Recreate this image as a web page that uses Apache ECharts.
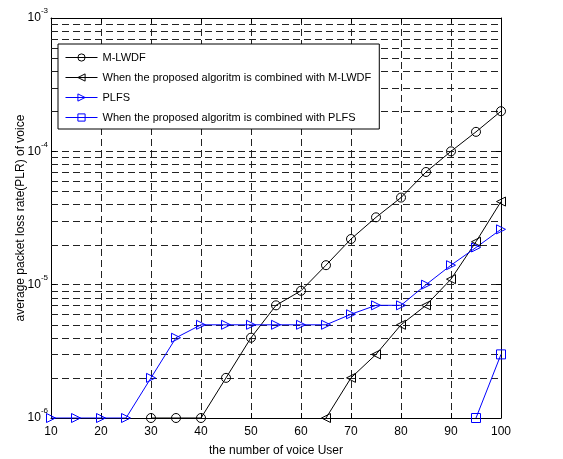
<!DOCTYPE html>
<html>
<head>
<meta charset="utf-8">
<script src="https://cdn.jsdelivr.net/npm/echarts@6/dist/echarts.min.js"></script>
<style>
  html, body { margin: 0; padding: 0; background: #fff; }
  #chart { width: 563px; height: 459px; }
</style>
</head>
<body>
<div id="chart"></div>
<script>
// number of voice users (x positions)
const users = [10, 15, 20, 25, 30, 35, 40, 45, 50, 55, 60, 65, 70, 75, 80, 85, 90, 95, 100];

// packet loss rate (null = not plotted)
const mlwdf = [null, null, null, null, 1e-6, 1e-6, 1e-6, 2e-6, 4e-6, 7e-6, 9e-6, 1.4e-5,
  2.2e-5, 3.2e-5, 4.5e-5, 7e-5, 1e-4, 1.4e-4, 2e-4];
const proposedMlwdf = [null, null, null, null, null, null, null, null, null, null, null, 1e-6,
  2e-6, 3e-6, 5e-6, 7e-6, 1.1e-5, 2.1e-5, 4.2e-5];
const plfs = [1e-6, 1e-6, 1e-6, 1e-6, 2e-6, 4e-6, 5e-6, 5e-6, 5e-6, 5e-6, 5e-6, 5e-6,
  6e-6, 7e-6, 7e-6, 1e-5, 1.4e-5, 1.9e-5, 2.6e-5];
const proposedPlfs = [null, null, null, null, null, null, null, null, null, null, null, null,
  null, null, null, null, null, 1e-6, 3e-6];

const seriesNames = [
  "M-LWDF",
  "When the proposed algoritm is combined with M-LWDF",
  "PLFS",
  "When the proposed algoritm is combined with PLFS"
];

// minor grid lines of the log axis (2..9 in each decade)
const minorTicks = [
  2e-6, 3e-6, 4e-6, 5e-6, 6e-6, 7e-6, 8e-6, 9e-6,
  2e-5, 3e-5, 4e-5, 5e-5, 6e-5, 7e-5, 8e-5, 9e-5,
  2e-4, 3e-4, 4e-4, 5e-4, 6e-4, 7e-4, 8e-4, 9e-4
];

const xMin = 10;
const xMax = 100;
const fontFamily = "'Liberation Sans', Arial, sans-serif";
const gridDash = { color: "#222", width: 1, type: [7, 4] };
const hollow = "rgba(255,255,255,0)";

function pairs(values) {
  return users.map((u, i) => [u, values[i]]);
}

function lineSeries(name, values, color, symbol, rotate) {
  return {
    name: name,
    type: "line",
    data: pairs(values),
    connectNulls: false,
    symbol: symbol,
    symbolSize: 9,
    symbolRotate: rotate,
    showAllSymbol: true,
    lineStyle: { color: color, width: 1 },
    itemStyle: { color: hollow, borderColor: color, borderWidth: 1 },
    emphasis: { disabled: true },
    z: 5
  };
}

// dashed horizontal line at each minor log value
function renderMinorLine(params, api) {
  const v = api.value(1);
  const p1 = api.coord([xMin, v]);
  const p2 = api.coord([xMax, v]);
  return {
    type: "line",
    shape: { x1: p1[0], y1: Math.round(p1[1]) + 0.5, x2: p2[0], y2: Math.round(p2[1]) + 0.5 },
    style: { stroke: gridDash.color, lineWidth: 1, lineDash: gridDash.type }
  };
}

function logLabel(value) {
  const exp = Math.round(Math.log10(value));
  return "{b|10}{s|" + exp + "}";
}

const axisRich = {
  b: { fontSize: 12, lineHeight: 14, color: "#000", fontFamily: fontFamily, padding: [8, 0, 0, 0] },
  s: { fontSize: 8, lineHeight: 10, color: "#000", fontFamily: fontFamily, verticalAlign: "top" }
};

const chart = echarts.init(document.getElementById("chart"), null, { renderer: "canvas" });

chart.setOption({
  animation: false,
  backgroundColor: "#fff",
  textStyle: { fontFamily: fontFamily },
  grid: { left: 51, right: 62, top: 18, bottom: 41, outerBoundsMode: "none" },
  legend: {
    orient: "vertical",
    left: 58,
    top: 44,
    padding: [8, 8, 6, 7],
    itemGap: 9,
    itemWidth: 32,
    itemHeight: 9,
    backgroundColor: "#fff",
    borderColor: "#000",
    borderWidth: 1,
    borderRadius: 0,
    lineStyle: { width: 1 },
    itemStyle: { color: hollow, borderWidth: 1 },
    textStyle: { fontSize: 11, color: "#000", fontFamily: fontFamily },
    data: seriesNames
  },
  xAxis: [
    {
      type: "value",
      min: xMin,
      max: xMax,
      interval: 10,
      name: "the number of voice User",
      nameLocation: "middle",
      nameGap: 27,
      nameTextStyle: { fontSize: 12, color: "#000" },
      axisLine: { lineStyle: { color: "#000" } },
      axisTick: { inside: true, length: 5, lineStyle: { color: "#000" } },
      axisLabel: { fontSize: 12, color: "#000", margin: 8 },
      splitLine: { show: true, lineStyle: gridDash }
    },
    {
      type: "value",
      position: "top",
      min: xMin,
      max: xMax,
      interval: 10,
      axisLine: { lineStyle: { color: "#000" } },
      axisTick: { inside: true, length: 5, lineStyle: { color: "#000" } },
      axisLabel: { show: false },
      splitLine: { show: false }
    }
  ],
  yAxis: [
    {
      type: "log",
      logBase: 10,
      min: 1e-6,
      max: 1e-3,
      name: "average packet loss rate(PLR) of voice",
      nameLocation: "middle",
      nameGap: 24,
      nameMoveOverlap: false,
      nameTextStyle: { fontSize: 12, color: "#000" },
      axisLine: { show: true, lineStyle: { color: "#000" } },
      axisTick: { inside: true, length: 5, lineStyle: { color: "#000" } },
      axisLabel: { formatter: logLabel, rich: axisRich, margin: 3, padding: [0, 0, 8, 0] },
      splitLine: { show: true, lineStyle: gridDash }
    },
    {
      type: "log",
      logBase: 10,
      position: "right",
      min: 1e-6,
      max: 1e-3,
      axisLine: { show: true, lineStyle: { color: "#000" } },
      axisTick: { inside: true, length: 5, lineStyle: { color: "#000" } },
      axisLabel: { show: false },
      splitLine: { show: false }
    }
  ],
  series: [
    {
      name: "minor-grid",
      type: "custom",
      silent: true,
      z: 1,
      renderItem: renderMinorLine,
      data: minorTicks.map((v) => [xMin, v])
    },
    lineSeries(seriesNames[0], mlwdf, "#000", "circle", 0),
    lineSeries(seriesNames[1], proposedMlwdf, "#000", "triangle", 90),
    lineSeries(seriesNames[2], plfs, "#0000ff", "triangle", -90),
    lineSeries(seriesNames[3], proposedPlfs, "#0000ff", "rect", 0)
  ]
});
</script>
</body>
</html>
